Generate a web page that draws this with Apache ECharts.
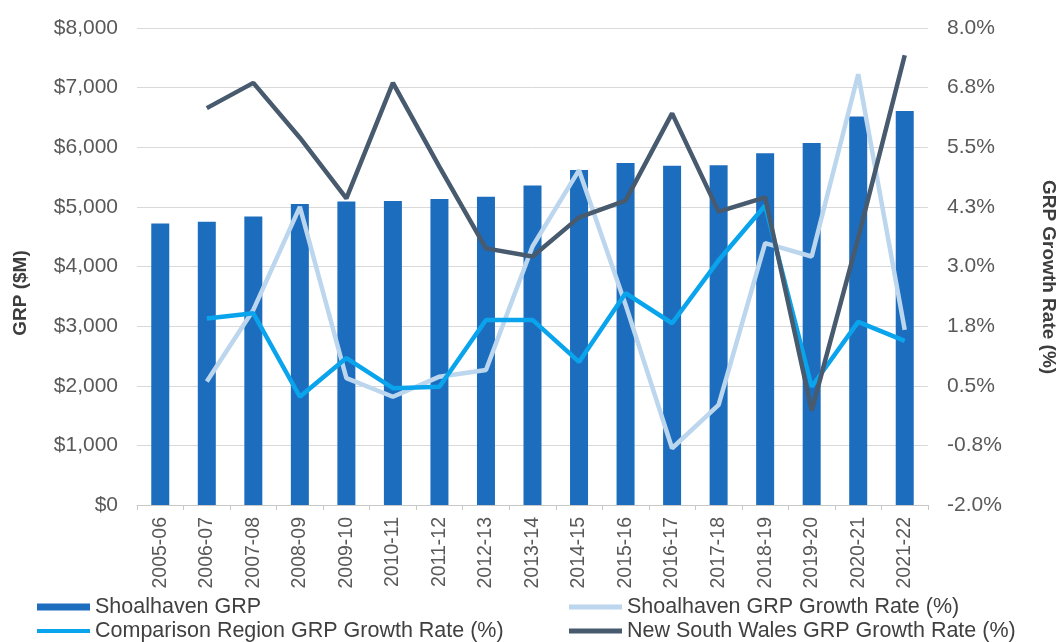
<!DOCTYPE html>
<html>
<head>
<meta charset="utf-8">
<script src="https://cdn.jsdelivr.net/npm/echarts@6/dist/echarts.min.js"></script>
<style>
  html, body { margin: 0; padding: 0; background: #ffffff; }
  #chart { width: 1059px; height: 642px; }
</style>
</head>
<body>
<div id="chart"></div>
<script>
const categories = ['2005-06','2006-07','2007-08','2008-09','2009-10','2010-11','2011-12','2012-13','2013-14','2014-15','2015-16','2016-17','2017-18','2018-19','2019-20','2020-21','2021-22'];
const grpValues = [4720, 4750, 4840, 5050, 5090, 5100, 5130, 5170, 5360, 5620, 5735, 5690, 5700, 5900, 6070, 6515, 6610];
const shoalhavenGrowth = [null, 0.59, 2.09, 4.25, 0.66, 0.27, 0.69, 0.83, 3.42, 5.02, 2.2, -0.81, 0.10, 3.49, 3.21, 7.03, 1.67];
const comparisonGrowth = [null, 1.91, 2.02, 0.27, 1.08, 0.45, 0.48, 1.88, 1.88, 1.0, 2.44, 1.81, 3.13, 4.28, 0.48, 1.84, 1.44];
const nswGrowth = [null, 6.32, 6.85, 5.7, 4.43, 6.85, 5.09, 3.38, 3.21, 4.03, 4.38, 6.21, 4.15, 4.45, -0.02, 3.6, 7.43];
const seriesNames = ['Shoalhaven GRP', 'Shoalhaven GRP Growth Rate (%)', 'Comparison Region GRP Growth Rate (%)', 'New South Wales GRP Growth Rate (%)'];
const leftAxisName = 'GRP ($M)';
const rightAxisName = 'GRP Growth Rate (%)';

const FONT = "'Liberation Sans', Arial, sans-serif";
const colors = { bar: '#1d6dbf', light: '#bcd6ee', comp: '#0aa4ec', nsw: '#475a6e' };

const chart = echarts.init(document.getElementById('chart'), null, { renderer: 'canvas' });

function legendFor(name, left, top, h) {
  return {
    data: [name], left: left, top: top, orient: 'horizontal',
    itemWidth: 53, itemHeight: h, itemGap: 0, padding: 0,
    icon: 'rect', selectedMode: false,
    textStyle: { fontFamily: FONT, fontSize: 21.5, color: '#404040', padding: [0, 0, 0, 0] }
  };
}

const option = {
  animation: false,
  backgroundColor: '#ffffff',
  textStyle: { fontFamily: FONT },
  grid: { left: 137, right: 131, top: 28, bottom: 137, containLabel: false },
  legend: [
    legendFor(seriesNames[0], 37, 596, 7),
    legendFor(seriesNames[2], 37, 620, 4),
    legendFor(seriesNames[1], 569, 596, 5),
    legendFor(seriesNames[3], 569, 620, 5)
  ],
  xAxis: {
    type: 'category', data: categories, boundaryGap: true,
    axisLine: { show: true, lineStyle: { color: '#c8c8c8', width: 1 } },
    axisTick: { show: true, length: 5, lineStyle: { color: '#c8c8c8' } },
    axisLabel: { rotate: 90, fontFamily: FONT, fontSize: 19.5, color: '#595959', margin: 12 }
  },
  yAxis: [
    {
      type: 'value', min: 0, max: 8000, interval: 1000,
      axisLine: { show: false }, axisTick: { show: false },
      splitLine: { lineStyle: { color: '#d9d9d9', width: 1 } },
      axisLabel: {
        fontFamily: FONT, fontSize: 21, color: '#595959', margin: 19,
        formatter: v => '$' + v.toLocaleString('en-US')
      }
    },
    {
      type: 'value', min: -2, max: 8, interval: 1.25,
      axisLine: { show: false }, axisTick: { show: false },
      splitLine: { show: false },
      axisLabel: {
        fontFamily: FONT, fontSize: 21, color: '#595959', margin: 19,
        formatter: v => v.toFixed(1) + '%'
      }
    }
  ],
  graphic: [
    { type: 'text', x: 21, y: 293, rotation: Math.PI / 2,
      style: { text: leftAxisName, textAlign: 'center', textVerticalAlign: 'middle',
               font: "bold 19px 'Liberation Sans', Arial, sans-serif", fill: '#3d3d3d' } },
    { type: 'text', x: 1048, y: 277, rotation: -Math.PI / 2,
      style: { text: rightAxisName, textAlign: 'center', textVerticalAlign: 'middle',
               font: "bold 19px 'Liberation Sans', Arial, sans-serif", fill: '#3d3d3d' } }
  ],
  series: [
    { name: seriesNames[0], type: 'bar', yAxisIndex: 0, data: grpValues, barWidth: 18,
      itemStyle: { color: colors.bar }, z: 1 },
    { name: seriesNames[1], type: 'line', yAxisIndex: 1, data: shoalhavenGrowth,
      showSymbol: false, symbol: 'none', lineStyle: { width: 4.5, color: colors.light }, itemStyle: { color: colors.light }, z: 2 },
    { name: seriesNames[2], type: 'line', yAxisIndex: 1, data: comparisonGrowth,
      showSymbol: false, symbol: 'none', lineStyle: { width: 4.5, color: colors.comp }, itemStyle: { color: colors.comp }, z: 3 },
    { name: seriesNames[3], type: 'line', yAxisIndex: 1, data: nswGrowth,
      showSymbol: false, symbol: 'none', lineStyle: { width: 4.5, color: colors.nsw }, itemStyle: { color: colors.nsw }, z: 4 }
  ]
};
chart.setOption(option);
</script>
</body>
</html>
